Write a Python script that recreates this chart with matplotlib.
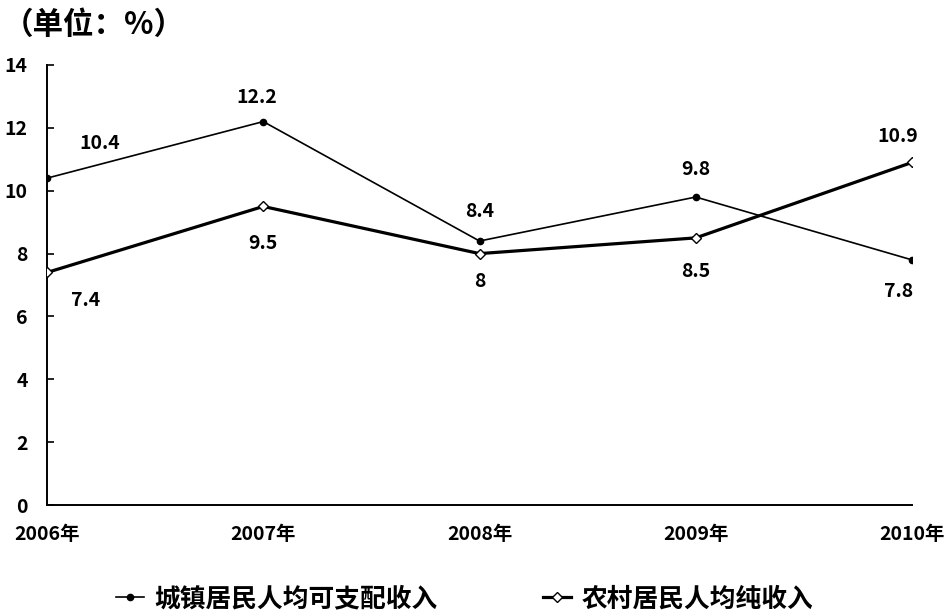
import numpy as np
import matplotlib
matplotlib.use('Agg')
import matplotlib.pyplot as plt

plt.rcParams['font.family'] = ['Noto Sans CJK SC', 'DejaVu Sans']

# ─── data ─────────────────────────────────────────────────────────────────────
YEARS = ['2006年', '2007年', '2008年', '2009年', '2010年']
URBAN = [10.4, 12.2, 8.4, 9.8, 7.8]     # 城镇居民人均可支配收入
RURAL = [7.4, 9.5, 8.0, 8.5, 10.9]      # 农村居民人均纯收入
URBAN_LABELS = ['10.4', '12.2', '8.4', '9.8', '7.8']
RURAL_LABELS = ['7.4', '9.5', '8', '8.5', '10.9']
Y_TICKS = [0, 2, 4, 6, 8, 10, 12, 14]
# ──────────────────────────────────────────────────────────────────────────────

fig = plt.figure(figsize=(9.5, 6.13), dpi=100)
ax = fig.add_axes([0.0495, 0.176, 0.9105, 0.718])

x = np.arange(len(YEARS))
ax.plot(x, URBAN, color='black', lw=1.2, marker='o', ms=4.5,
        mfc='black', mec='black', label='城镇居民人均可支配收入', zorder=3)
ax.plot(x, RURAL, color='black', lw=2.3, marker='D', ms=5,
        mfc='white', mec='black', mew=1.0, label='农村居民人均纯收入', zorder=3)

# data labels (offsets in points)
u_off = [(38, 25), (-5, 17), (0, 21), (0, 20), (-10, -23)]
r_off = [(28, -20), (0, -27), (0, -20), (0, -24), (-10, 19)]
for i, (v, t) in enumerate(zip(URBAN, URBAN_LABELS)):
    dx, dy = u_off[i]
    ax.annotate(t, (x[i], v), xytext=(dx, dy), textcoords='offset points',
                ha='center', va='center', fontsize=14, fontweight='bold')
for i, (v, t) in enumerate(zip(RURAL, RURAL_LABELS)):
    dx, dy = r_off[i]
    ax.annotate(t, (x[i], v), xytext=(dx, dy), textcoords='offset points',
                ha='center', va='center', fontsize=14, fontweight='bold')

ax.set_xlim(0, 4)
ax.set_ylim(0, 14)
ax.set_xticks(x)
ax.set_xticklabels(YEARS, fontsize=14, fontweight='bold')
ax.set_yticks(Y_TICKS)
ax.set_yticklabels([str(v) for v in Y_TICKS], fontsize=14, fontweight='bold')
ax.tick_params(axis='y', direction='in', length=5, width=1.2, pad=14)
ax.tick_params(axis='x', length=0, pad=14)
for s in ['top', 'right']:
    ax.spines[s].set_visible(False)
ax.spines['left'].set_linewidth(1.4)
ax.spines['bottom'].set_linewidth(1.4)

fig.text(0.003, 0.985, '（单位：%）', fontsize=22, fontweight='bold',
         ha='left', va='top')

leg = fig.legend(loc='center', bbox_to_anchor=(0.489, 0.023), ncol=2,
                 frameon=False, handlelength=1.1, handletextpad=0.4,
                 columnspacing=4.1, borderpad=0,
                 prop={'weight': 'bold', 'size': 18.5})

fig.savefig('out.png', dpi=100, facecolor='white')
